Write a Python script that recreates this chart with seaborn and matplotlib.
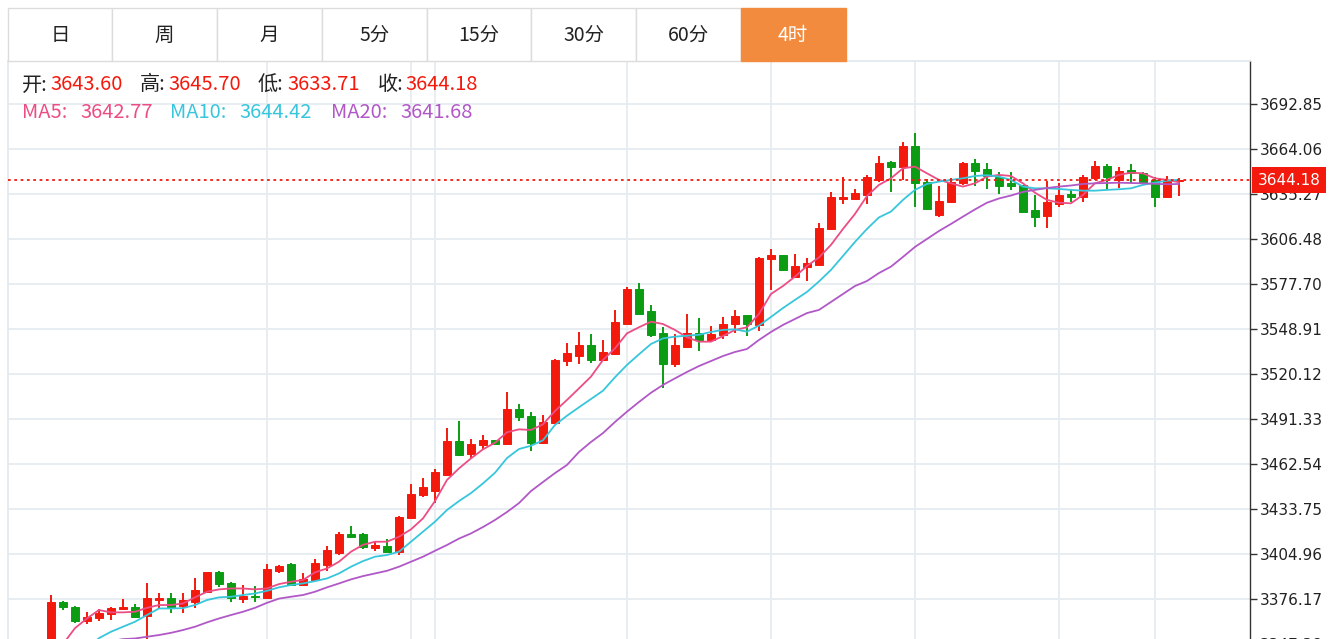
import numpy as np
import pandas as pd
import seaborn as sns
import matplotlib.pyplot as plt
import matplotlib.transforms as mtransforms
from matplotlib.patches import Rectangle
from matplotlib.ticker import FormatStrFormatter

# 4h candles, oldest first
opens = [3337.1, 3374.4, 3371.0, 3362.0, 3363.7, 3366.3, 3369.9, 3370.8, 3365.2, 3375.5,
         3376.5, 3371.4, 3374.4, 3380.8, 3393.4, 3386.1, 3376.3, 3378.0, 3376.7, 3394.2,
         3398.7, 3384.9, 3388.3, 3398.0, 3405.7, 3417.7, 3417.9, 3408.7, 3410.2, 3406.5,
         3427.7, 3442.5, 3445.0, 3455.8, 3477.2, 3468.7, 3474.5, 3477.6, 3475.1, 3497.7,
         3493.0, 3475.7, 3488.5, 3528.4, 3531.5, 3538.5, 3529.1, 3532.7, 3552.4, 3574.3,
         3560.4, 3546.1, 3526.5, 3537.7, 3546.2, 3541.9, 3545.1, 3551.8, 3557.6, 3551.6,
         3593.5, 3596.1, 3581.9, 3588.7, 3589.9, 3613.1, 3632.3, 3632.3, 3634.7, 3644.3,
         3656.0, 3652.8, 3666.0, 3643.0, 3621.9, 3630.0, 3642.3, 3655.3, 3651.5, 3646.4,
         3642.5, 3641.1, 3625.1, 3621.0, 3628.9, 3635.3, 3633.2, 3645.4, 3653.2, 3644.3,
         3650.7, 3648.9, 3644.3, 3633.6, 3643.60]
highs = [3378.7, 3375.0, 3371.6, 3367.8, 3369.5, 3371.2, 3375.9, 3373.1, 3386.5, 3379.7,
         3379.9, 3380.1, 3389.3, 3393.7, 3394.2, 3387.0, 3384.9, 3384.4, 3398.5, 3398.0,
         3399.1, 3392.5, 3401.5, 3410.0, 3419.0, 3423.0, 3418.5, 3413.4, 3414.5, 3429.2,
         3449.9, 3453.7, 3459.2, 3485.7, 3489.8, 3478.7, 3481.2, 3477.9, 3508.4, 3500.7,
         3495.6, 3494.0, 3529.9, 3539.9, 3546.8, 3546.0, 3542.0, 3561.2, 3576.0, 3578.3,
         3564.3, 3550.3, 3545.5, 3558.8, 3555.8, 3550.8, 3556.4, 3560.9, 3557.6, 3595.0,
         3599.9, 3596.4, 3596.9, 3594.1, 3616.9, 3636.6, 3646.2, 3638.3, 3647.5, 3659.4,
         3656.4, 3668.4, 3674.5, 3644.7, 3640.4, 3645.3, 3656.0, 3657.7, 3655.3, 3649.6,
         3649.2, 3641.1, 3634.7, 3643.6, 3642.1, 3637.9, 3647.5, 3656.6, 3654.3, 3652.6,
         3654.5, 3649.6, 3645.9, 3646.8, 3645.70]
lows = [3333.9, 3369.1, 3360.7, 3359.9, 3362.2, 3362.7, 3369.1, 3364.1, 3349.2, 3370.5,
        3367.3, 3367.3, 3370.3, 3380.6, 3383.6, 3374.0, 3373.7, 3374.2, 3376.1, 3392.5,
        3384.9, 3384.4, 3387.8, 3394.2, 3404.4, 3415.8, 3407.9, 3407.0, 3406.2, 3404.6,
        3427.7, 3441.2, 3437.3, 3455.0, 3467.4, 3466.3, 3471.5, 3475.3, 3474.7, 3490.2,
        3470.6, 3475.1, 3488.4, 3525.3, 3526.5, 3526.9, 3528.7, 3532.4, 3552.0, 3558.3,
        3544.0, 3511.3, 3524.7, 3537.3, 3535.1, 3540.3, 3542.3, 3546.2, 3544.7, 3547.7,
        3573.9, 3586.3, 3581.8, 3579.8, 3589.4, 3613.1, 3629.0, 3631.9, 3628.6, 3643.0,
        3636.8, 3644.3, 3627.2, 3625.4, 3620.8, 3629.7, 3640.9, 3640.6, 3638.7, 3635.3,
        3637.9, 3623.3, 3614.2, 3613.3, 3626.8, 3630.4, 3630.4, 3644.3, 3637.9, 3638.9,
        3642.1, 3642.0, 3626.8, 3633.6, 3633.71]
closes = [3374.2, 3371.0, 3362.0, 3364.4, 3367.3, 3370.5, 3371.0, 3364.8, 3376.5, 3376.7,
          3371.2, 3375.5, 3381.7, 3393.4, 3385.5, 3376.5, 3378.2, 3377.2, 3395.1, 3397.2,
          3385.3, 3389.1, 3399.1, 3407.5, 3417.9, 3416.0, 3409.2, 3410.4, 3406.4, 3428.8,
          3443.5, 3448.0, 3457.4, 3477.2, 3468.4, 3475.1, 3477.6, 3475.5, 3497.7, 3492.6,
          3475.9, 3489.4, 3529.2, 3533.3, 3538.5, 3528.9, 3534.3, 3553.6, 3574.3, 3558.3,
          3545.1, 3526.5, 3538.5, 3546.2, 3541.9, 3545.7, 3552.3, 3557.5, 3551.8, 3594.5,
          3596.1, 3586.7, 3589.2, 3591.1, 3613.5, 3633.4, 3633.4, 3635.7, 3646.2, 3655.1,
          3652.8, 3666.2, 3642.1, 3625.5, 3630.6, 3643.0, 3655.3, 3650.2, 3646.8, 3640.4,
          3640.4, 3623.9, 3620.8, 3630.2, 3634.8, 3633.2, 3646.4, 3653.4, 3645.9, 3650.2,
          3648.9, 3642.5, 3633.6, 3644.3, 3644.18]

ma5 = [3340.3, 3347.3, 3357.5, 3363.7, 3369.1, 3367.6, 3367.6, 3368.0, 3370.5, 3372.3,
       3372.3, 3373.3, 3377.2, 3380.8, 3382.3, 3382.9, 3382.9, 3382.3, 3382.9, 3385.7,
       3387.2, 3388.3, 3393.2, 3395.7, 3400.0, 3406.4, 3410.8, 3412.8, 3412.8, 3416.0,
       3420.7, 3427.7, 3438.8, 3452.3, 3459.7, 3466.1, 3471.9, 3476.1, 3482.8, 3484.7,
       3484.3, 3487.9, 3496.4, 3503.5, 3510.9, 3518.4, 3529.1, 3536.5, 3546.1, 3550.0,
       3553.6, 3552.1, 3548.3, 3543.6, 3540.8, 3540.8, 3544.4, 3548.3, 3550.0, 3558.5,
       3571.3, 3576.4, 3582.4, 3589.2, 3594.7, 3602.7, 3612.9, 3622.5, 3634.0, 3641.1,
       3645.3, 3651.7, 3652.8, 3648.5, 3644.3, 3642.1, 3640.0, 3642.1, 3646.4, 3647.5,
       3646.8, 3642.1, 3636.1, 3631.5, 3629.7, 3629.3, 3634.7, 3642.1, 3644.3, 3647.5,
       3648.9, 3648.5, 3645.3, 3644.3, 3642.77]
ma10 = [3324.3, 3330.7, 3337.1, 3344.7, 3351.1, 3355.2, 3358.4, 3361.6, 3365.9, 3370.1,
        3370.1, 3370.3, 3372.3, 3375.5, 3377.2, 3377.6, 3378.7, 3379.7, 3381.4, 3383.6,
        3385.1, 3386.1, 3387.6, 3389.3, 3392.5, 3396.8, 3400.4, 3403.2, 3404.3, 3406.4,
        3412.8, 3419.2, 3425.6, 3433.1, 3438.8, 3443.9, 3450.1, 3456.9, 3466.3, 3472.1,
        3474.2, 3477.7, 3487.5, 3493.4, 3498.8, 3504.1, 3509.4, 3518.0, 3525.9, 3532.7,
        3539.3, 3542.9, 3544.0, 3544.6, 3545.2, 3547.0, 3548.3, 3548.7, 3547.2, 3551.1,
        3556.6, 3562.3, 3567.5, 3572.6, 3579.3, 3586.7, 3595.6, 3604.6, 3612.9, 3620.3,
        3624.0, 3631.5, 3637.9, 3641.7, 3643.2, 3644.3, 3645.3, 3646.8, 3647.3, 3646.4,
        3644.3, 3640.0, 3638.9, 3638.9, 3638.5, 3637.9, 3637.4, 3637.4, 3637.9, 3638.3,
        3638.9, 3641.1, 3642.5, 3643.8, 3644.42]
ma20 = [3342.2, 3344.1, 3345.4, 3346.7, 3347.9, 3349.2, 3350.5, 3350.9, 3352.0, 3353.1,
        3354.5, 3356.3, 3358.4, 3361.2, 3363.7, 3365.9, 3368.0, 3370.5, 3373.7, 3376.4,
        3377.6, 3378.7, 3380.8, 3383.6, 3386.1, 3388.7, 3390.8, 3392.5, 3394.2, 3396.8,
        3400.0, 3403.2, 3407.0, 3410.7, 3414.8, 3418.1, 3422.2, 3426.7, 3431.8, 3437.5,
        3445.2, 3451.0, 3456.7, 3461.9, 3470.2, 3476.6, 3482.3, 3489.4, 3496.0, 3502.2,
        3508.1, 3513.1, 3517.3, 3521.4, 3525.2, 3528.4, 3531.6, 3534.2, 3536.1, 3541.9,
        3547.0, 3551.5, 3555.3, 3559.1, 3561.1, 3566.2, 3571.3, 3576.4, 3579.6, 3584.7,
        3588.8, 3595.0, 3601.4, 3606.5, 3611.6, 3616.1, 3620.8, 3625.4, 3629.7, 3632.4,
        3634.3, 3636.6, 3637.9, 3639.1, 3640.0, 3640.7, 3641.7, 3642.1, 3642.3, 3642.5,
        3642.3, 3642.1, 3641.8, 3641.5, 3641.68]

y_ticks = [3692.85, 3664.06, 3635.27, 3606.48, 3577.70, 3548.91, 3520.12,
           3491.33, 3462.54, 3433.75, 3404.96, 3376.17, 3347.38]
day_breaks = [18, 30, 32, 48, 60, 72, 84, 92]
tabs = ["日", "周", "月", "5分", "15分", "30分", "60分", "4时"]
active_tab = "4时"

RED = "#f3190c"
GREEN = "#0b9c13"
MA_COLORS = {"MA5": "#ec4d84", "MA10": "#37c6db", "MA20": "#b158c7"}
GRID = "#e6ecf1"

df = pd.DataFrame({"idx": np.arange(len(opens)), "open": opens, "high": highs,
                   "low": lows, "close": closes, "MA5": ma5, "MA10": ma10, "MA20": ma20})

sns.set_theme(style="white")
plt.rcParams['font.family'] = ['Noto Sans CJK SC', 'DejaVu Sans']

W, H = 1329, 639
fig = plt.figure(figsize=(W / 100, H / 100), dpi=100)
fig.patch.set_facecolor("white")

# chart area: x 8..1250 px, y 61..660 px (runs a little past the bottom edge)
ax = fig.add_axes([8 / W, 1 - 660 / H, (1250 - 8) / W, (660 - 61) / H])
ax.set_xlim(-3.58, 99.92)
ax.set_ylim(3337.13, 3720.36)

ax.set_yticks(y_ticks)
ax.yaxis.set_major_formatter(FormatStrFormatter("%.2f"))
ax.yaxis.tick_right()
ax.set_xticks([])
ax.tick_params(axis="y", length=5, width=1, color="#333333", labelsize=11,
               labelcolor="#222222", pad=2)
for lab in ax.get_yticklabels():
    lab.set_family("DejaVu Sans")
ax.grid(axis="y", color=GRID, linewidth=1.3)
for b in day_breaks:
    ax.axvline(b, color=GRID, linewidth=1.3, zorder=0)
ax.set_axisbelow(True)

ax.spines["bottom"].set_visible(False)
ax.spines["left"].set_color("#e3e8ed")
ax.spines["top"].set_color("#e3e8ed")
ax.spines["right"].set_color("#333333")
ax.spines["right"].set_linewidth(1)

# candles
up = df["close"] >= df["open"]
colors = np.where(up, RED, GREEN)
ax.vlines(df["idx"], df["low"], df["high"], colors=colors, linewidth=1.4, zorder=2)
ax.bar(df["idx"], (df["close"] - df["open"]).abs(), bottom=df[["open", "close"]].min(axis=1),
       width=0.62, color=colors, edgecolor=colors, linewidth=0.7, zorder=2)

# moving averages
ma_long = df.melt(id_vars="idx", value_vars=["MA5", "MA10", "MA20"], var_name="ma", value_name="price")
sns.lineplot(data=ma_long, x="idx", y="price", hue="ma", palette=MA_COLORS,
             linewidth=1.3, legend=False, ax=ax, zorder=3)
ax.set_xlabel("")
ax.set_ylabel("")

# last price line + label
last = closes[-1]
ax.axhline(last, color=RED, linewidth=1.3, linestyle=(0, (1.5, 2)), zorder=4)
blend = mtransforms.blended_transform_factory(ax.transAxes, ax.transData)
ax.text(1.006, last, f"{last:.2f}", transform=blend, ha="left", va="center", color="white",
        fontsize=11, family="DejaVu Sans", clip_on=False, zorder=10,
        bbox=dict(boxstyle="square,pad=0.35", fc=RED, ec="none"))

# overlay in pixel coordinates for tabs and header
ov = fig.add_axes([0, 0, 1, 1], zorder=5)
ov.set_xlim(0, W)
ov.set_ylim(H, 0)
ov.axis("off")
ov.patch.set_alpha(0)

tab_w = 104.75
for i, t in enumerate(tabs):
    x0 = 7.5 + i * tab_w
    active = t == active_tab
    ov.add_patch(Rectangle((x0, 7.5), tab_w, 53.5, facecolor="#f28b3e" if active else "white",
                           edgecolor="#f28b3e" if active else "#dcdcdc", linewidth=1))
    ov.text(x0 + tab_w / 2, 35, t, ha="center", va="center", fontsize=14,
            color="white" if active else "#222222")

row1 = [(22, "开:", "#222222"), (50, f"{opens[-1]:.2f}", RED),
        (140, "高:", "#222222"), (168, f"{highs[-1]:.2f}", RED),
        (258, "低:", "#222222"), (287, f"{lows[-1]:.2f}", RED),
        (378, "收:", "#222222"), (405, f"{closes[-1]:.2f}", RED)]
row2 = [(22, "MA5:", MA_COLORS["MA5"]), (80, f"{ma5[-1]:.2f}", MA_COLORS["MA5"]),
        (170, "MA10:", MA_COLORS["MA10"]), (239, f"{ma10[-1]:.2f}", MA_COLORS["MA10"]),
        (331, "MA20:", MA_COLORS["MA20"]), (400, f"{ma20[-1]:.2f}", MA_COLORS["MA20"])]
for x, s, c in row1:
    ov.text(x, 85, s, ha="left", va="center", fontsize=14.5, color=c)
for x, s, c in row2:
    ov.text(x, 112, s, ha="left", va="center", fontsize=14.5, color=c)

fig.savefig("out.png", dpi=100)
